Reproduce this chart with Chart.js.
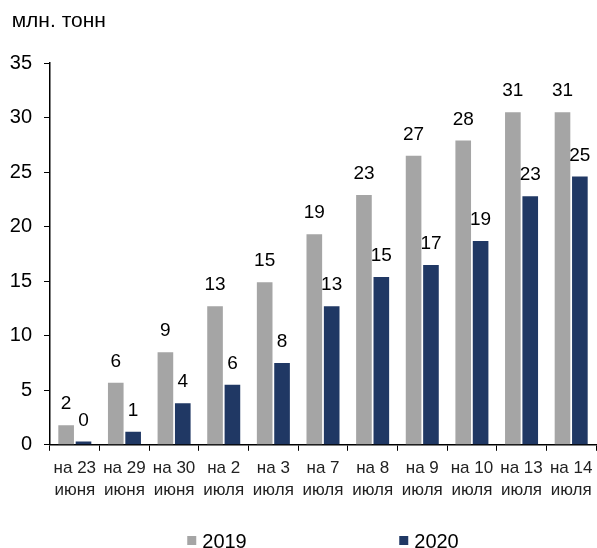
<!DOCTYPE html>
<html>
<head>
<meta charset="utf-8">
<script src="https://cdn.jsdelivr.net/npm/chart.js@4"></script>
<style>
  html, body { margin: 0; padding: 0; background: #fff; }
  #wrap { width: 597px; height: 548px; }
</style>
</head>
<body>
<div id="wrap"><canvas id="chart" width="597" height="548"></canvas></div>
<script>
const categories = [
  ["на 23", "июня"], ["на 29", "июня"], ["на 30", "июня"], ["на 2", "июля"],
  ["на 3", "июля"], ["на 7", "июля"], ["на 8", "июля"], ["на 9", "июля"],
  ["на 10", "июля"], ["на 13", "июля"], ["на 14", "июля"]
];
const values2019 = [1.8, 5.7, 8.5, 12.7, 14.9, 19.3, 22.9, 26.5, 27.9, 30.5, 30.5];
const values2020 = [0.3, 1.2, 3.8, 5.5, 7.5, 12.7, 15.4, 16.5, 18.7, 22.8, 24.6];
const seriesNames = ["2019", "2020"];
const yTicks = [0, 5, 10, 15, 20, 25, 30, 35];

const GRAY = "#A5A5A5";
const NAVY = "#203864";
const FONT = "'Liberation Sans', Arial, sans-serif";

// value labels above each bar
const barLabels = {
  id: "barLabels",
  afterDatasetsDraw(chart) {
    const ctx = chart.ctx;
    ctx.save();
    ctx.font = "19px " + FONT;
    ctx.fillStyle = "#000";
    ctx.textAlign = "center";
    ctx.textBaseline = "alphabetic";
    chart.data.datasets.forEach((ds, i) => {
      chart.getDatasetMeta(i).data.forEach((bar, j) => {
        ctx.fillText(Math.round(ds.data[j]), bar.x, bar.y - 16);
      });
    });
    ctx.restore();
  }
};

// bottom legend with small square markers
const squareLegend = {
  id: "squareLegend",
  afterDraw(chart) {
    const ctx = chart.ctx;
    const area = chart.chartArea;
    const step = 212;
    const y = 541;
    ctx.save();
    ctx.font = "20px " + FONT;
    ctx.textBaseline = "middle";
    const lastW = 15 + ctx.measureText(chart.data.datasets.at(-1).label).width;
    const total = step * (chart.data.datasets.length - 1) + lastW;
    let x = (area.left + area.right) / 2 - total / 2;
    chart.data.datasets.forEach(ds => {
      ctx.fillStyle = ds.backgroundColor;
      ctx.fillRect(x, y - 5, 9, 9);
      ctx.fillStyle = "#000";
      ctx.fillText(ds.label, x + 15, y + 1);
      x += step;
    });
    ctx.restore();
  }
};

new Chart(document.getElementById("chart").getContext("2d"), {
  type: "bar",
  data: {
    labels: categories,
    datasets: [
      { label: seriesNames[0], data: values2019, backgroundColor: GRAY },
      { label: seriesNames[1], data: values2020, backgroundColor: NAVY }
    ]
  },
  options: {
    responsive: false,
    animation: false,
    datasets: { bar: { categoryPercentage: 0.7, barPercentage: 0.9 } },
    layout: { padding: { left: 0, right: 1, top: 0, bottom: 41 } },
    plugins: {
      legend: { display: false },
      tooltip: { enabled: false },
      title: {
        display: true,
        text: "  млн. тонн",
        align: "start",
        color: "#000",
        font: { family: FONT, size: 21, weight: "normal" },
        padding: { top: 9, bottom: 29 }
      }
    },
    scales: {
      x: {
        offset: true,
        afterFit: axis => { axis.paddingLeft = 0; axis.paddingRight = 0; },
        grid: { display: true, drawOnChartArea: false, offset: true, color: "#000", tickLength: 6, lineWidth: 1 },
        border: { color: "#000", width: 1.5 },
        ticks: { color: "#222", font: { family: FONT, size: 17, lineHeight: 1.3 }, padding: 6, maxRotation: 0, autoSkip: false }
      },
      y: {
        min: 0,
        max: 35,
        afterBuildTicks: axis => { axis.ticks = yTicks.map(v => ({ value: v })); },
        afterFit: axis => { axis.width = 50; },
        grid: { display: true, drawOnChartArea: false, color: "#000", tickLength: 6 },
        border: { color: "#000", width: 1.5 },
        ticks: { color: "#000", font: { family: FONT, size: 20 }, padding: 12 }
      }
    }
  },
  plugins: [barLabels, squareLegend]
});
</script>
</body>
</html>
